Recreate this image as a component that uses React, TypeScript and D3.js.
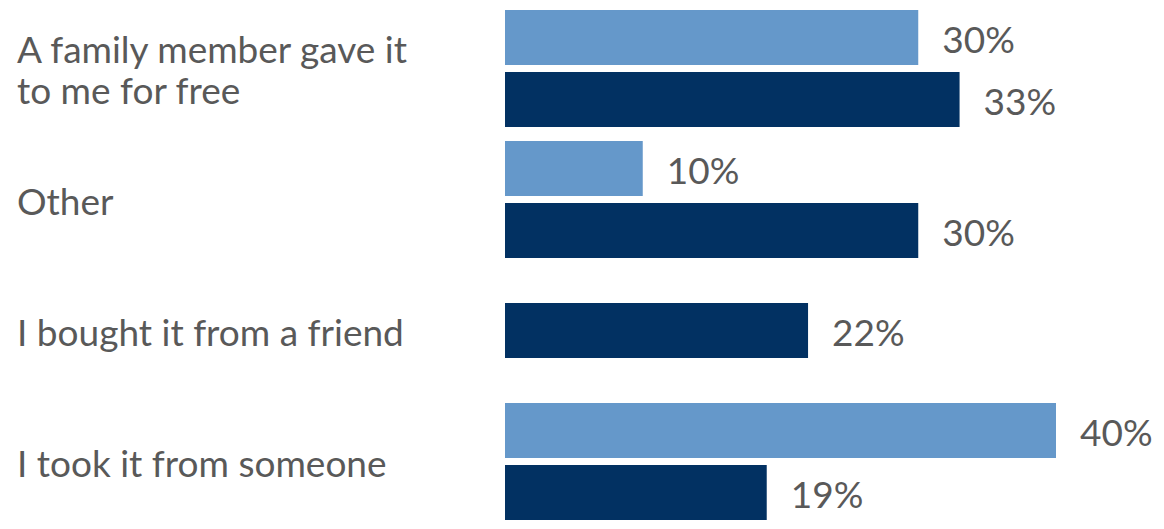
import React from "react";
import * as d3 from "d3";

const categories = [
  ["A family member gave it", "to me for free"],
  ["Other"],
  ["I bought it from a friend"],
  ["I took it from someone"],
];
const lightValues: (number | null)[] = [30, 10, null, 40];
const darkValues: (number | null)[] = [33, 30, 22, 19];

const W = 1164;
const H = 529;
const LIGHT = "#6598CA";
const DARK = "#023162";
const TEXT = "#595959";
const FONT = "Lato, 'Open Sans', sans-serif";

export default function App() {
  const keys = categories.map((c) => c.join(" "));
  const x = d3.scaleLinear().domain([0, 40]).range([505, 1056]);
  const y = d3.scaleBand<string>().domain(keys).range([3, 527]).padding(0);
  const barH = 55;
  const gap = 7;

  const bars: { key: string; y: number; v: number; color: string }[] = [];
  keys.forEach((k, i) => {
    const c = (y(k) ?? 0) + y.bandwidth() / 2;
    const lv = lightValues[i];
    const dv = darkValues[i];
    if (lv != null && dv != null) {
      bars.push({ key: k + "l", y: c - gap / 2 - barH, v: lv, color: LIGHT });
      bars.push({ key: k + "d", y: c + gap / 2, v: dv, color: DARK });
    } else if (dv != null) {
      bars.push({ key: k + "d", y: c - barH / 2, v: dv, color: DARK });
    } else if (lv != null) {
      bars.push({ key: k + "l", y: c - barH / 2, v: lv, color: LIGHT });
    }
  });

  return (
    <svg
      width={W}
      height={H}
      style={{ position: "absolute", left: 0, top: 0, background: "#fff" }}
      fontFamily={FONT}
    >
      <rect width={W} height={H} fill="#fff" />
      {categories.map((lines, i) => {
        const c = (y(keys[i]) ?? 0) + y.bandwidth() / 2;
        const lh = 41;
        const start = c - ((lines.length - 1) * lh) / 2;
        return (
          <text key={keys[i]} x={17} fontSize={37} fill={TEXT}>
            {lines.map((ln, j) => (
              <tspan key={j} x={17} y={start + j * lh + 15}>
                {ln}
              </tspan>
            ))}
          </text>
        );
      })}
      {bars.map((b) => (
        <g key={b.key}>
          <rect x={x(0)} y={b.y} width={x(b.v) - x(0)} height={barH} fill={b.color} />
          <text
            x={x(b.v) + 24}
            y={b.y + barH / 2 + 15}
            fontSize={37}
            fill={TEXT}
          >
            {b.v + "%"}
          </text>
        </g>
      ))}
    </svg>
  );
}
